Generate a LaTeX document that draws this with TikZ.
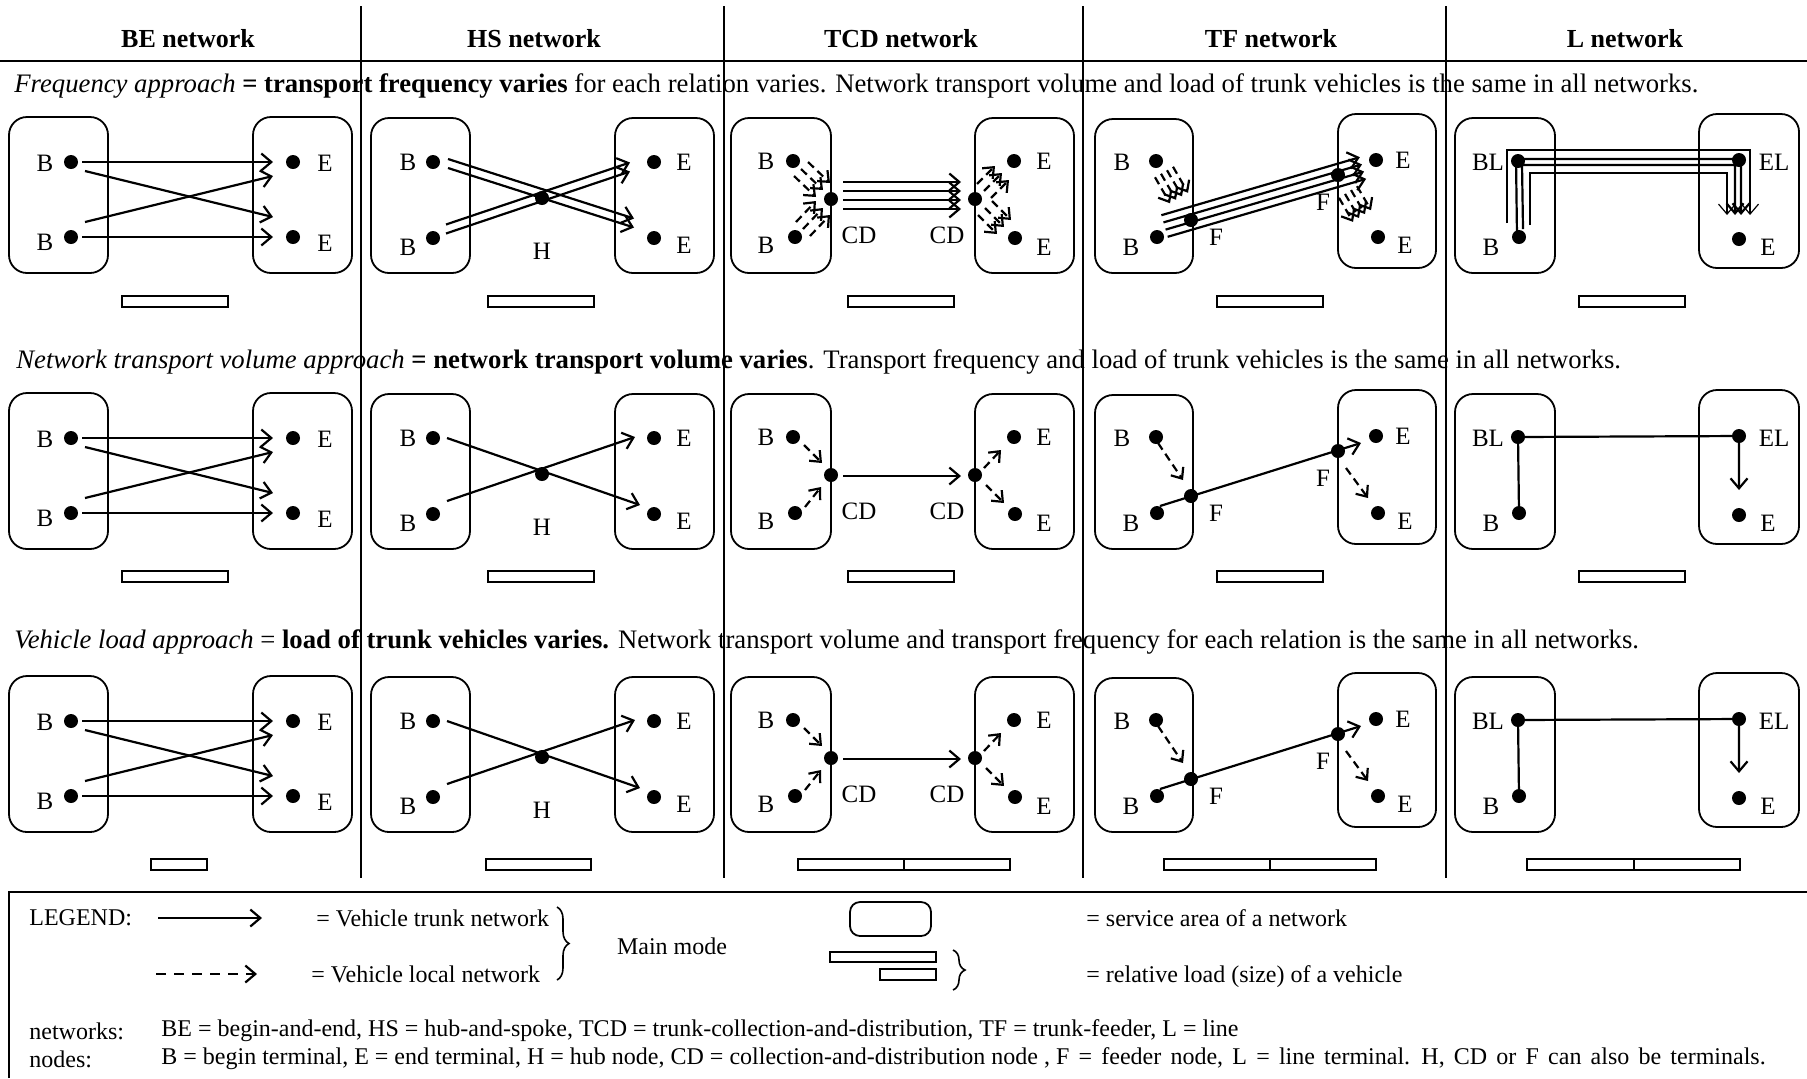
\documentclass[tikz,border=0pt]{standalone}
\usepackage{fontspec}
\setmainfont{Liberation Serif}
\usetikzlibrary{arrows.meta,decorations.pathreplacing}
\begin{document}
\begin{tikzpicture}[x=0.5pt,y=-0.5pt,
  area/.style={draw, line width=0.9pt, rounded corners=9pt},
  dot/.style={circle, fill, inner sep=0pt, minimum size=7pt},
  lbl/.style={inner sep=0pt, font=\fontsize{12.5}{14}\selectfont},
  trunk/.style={line width=1.1pt, -{Straight Barb[length=5pt,width=8.5pt]}},
  trunkline/.style={line width=1.1pt},
  thintrunk/.style={line width=0.6pt, -{Straight Barb[length=5pt,width=8.5pt]}},
  local/.style={line width=1.1pt, dash pattern=on 4pt off 2.5pt, -{Straight Barb[length=4.5pt,width=7.5pt]}},
  legdash/.style={line width=1.1pt, dash pattern=on 5pt off 4pt, -{Straight Barb[length=5pt,width=8.5pt]}},
  bar/.style={draw, line width=0.9pt},
  hdr/.style={font=\fontsize{13}{15}\selectfont\bfseries, inner sep=0pt},
  captxt/.style={font=\fontsize{13.35}{15}\selectfont, anchor=west, inner sep=0pt},
  leg/.style={font=\fontsize{12}{14}\selectfont, inner sep=0pt},
  brc/.style={decorate, decoration={brace, amplitude=6pt}, line width=0.8pt},
]
\useasboundingbox (0,0) rectangle (1807,1078);

% ---------- grid ----------
\draw[line width=1pt] (0,61) -- (1807,61);
\foreach \x in {361,724,1083,1446} \draw[line width=0.9pt] (\x,6) -- (\x,878);

% ---------- headers ----------
\node[hdr] (h1) at (188,39) {BE network};
\node[hdr] (h2) at (534,39) {HS network};
\node[hdr] (h3) at (901,39) {TCD network};
\node[hdr] (h4) at (1271,39) {TF network};
\node[hdr] (h5) at (1625,39) {L network};

% ---------- captions ----------
\node[captxt] (cap1) at (14,86) {\textit{Frequency approach} \textbf{= transport frequency varies} for each relation varies. Network transport volume and load of trunk vehicles is the same in all networks.};
\node[captxt] (cap2) at (16,362) {\textit{Network transport volume approach} \textbf{= network transport volume varies}. Transport frequency and load of trunk vehicles is the same in all networks.};
\node[captxt] (cap3) at (14,642) {\textit{Vehicle load approach} = \textbf{load of trunk vehicles varies.} Network transport volume and transport frequency for each relation is the same in all networks.};

% ---------- panels: areas, dots, labels ----------
\foreach \r/\dy in {1/0,2/276,3/559}{
\begin{scope}[shift={(0,\dy)}]
  % BE
  \draw[area] (9,117) rectangle (108,273);
  \draw[area] (253,117) rectangle (352,273);
  \node[dot] (beB1-\r) at (71,162) {};
  \node[dot] (beB2-\r) at (71,237) {};
  \node[dot] (beE1-\r) at (293,162) {};
  \node[dot] (beE2-\r) at (293,237) {};
  \node[lbl] (beLB1-\r) at (45,163) {B};
  \node[lbl] (beLB2-\r) at (45,242) {B};
  \node[lbl] (beLE1-\r) at (325,163) {E};
  \node[lbl] (beLE2-\r) at (325,243) {E};
  % HS
  \draw[area] (371,118) rectangle (470,273);
  \draw[area] (615,118) rectangle (714,273);
  \node[dot] (hsB1-\r) at (433,162) {};
  \node[dot] (hsB2-\r) at (433,238) {};
  \node[dot] (hsH-\r) at (542,198) {};
  \node[dot] (hsE1-\r) at (654,162) {};
  \node[dot] (hsE2-\r) at (654,238) {};
  \node[lbl] (hsLB1-\r) at (408,162) {B};
  \node[lbl] (hsLB2-\r) at (408,247) {B};
  \node[lbl] (hsLH-\r) at (542,251) {H};
  \node[lbl] (hsLE1-\r) at (684,162) {E};
  \node[lbl] (hsLE2-\r) at (684,245) {E};
  % TCD
  \draw[area] (731,118) rectangle (831,273);
  \draw[area] (975,118) rectangle (1074,273);
  \node[dot] (tcB1-\r) at (793,161) {};
  \node[dot] (tcB2-\r) at (795,237) {};
  \node[dot] (tcC1-\r) at (831,199) {};
  \node[dot] (tcC2-\r) at (975,199) {};
  \node[dot] (tcE1-\r) at (1014,161) {};
  \node[dot] (tcE2-\r) at (1015,238) {};
  \node[lbl] (tcLB1-\r) at (766,161) {B};
  \node[lbl] (tcLB2-\r) at (766,245) {B};
  \node[lbl] (tcLC1-\r) at (859,235) {CD};
  \node[lbl] (tcLC2-\r) at (947,235) {CD};
  \node[lbl] (tcLE1-\r) at (1044,161) {E};
  \node[lbl] (tcLE2-\r) at (1044,247) {E};
  % TF
  \draw[area] (1095,119) rectangle (1193,273);
  \draw[area] (1338,114) rectangle (1436,268);
  \node[dot] (tfB1-\r) at (1156,161) {};
  \node[dot] (tfB2-\r) at (1157,237) {};
  \node[dot] (tfF1-\r) at (1191,220) {};
  \node[dot] (tfF2-\r) at (1338,175) {};
  \node[dot] (tfE1-\r) at (1376,160) {};
  \node[dot] (tfE2-\r) at (1378,237) {};
  \node[lbl] (tfLB1-\r) at (1122,162) {B};
  \node[lbl] (tfLB2-\r) at (1131,247) {B};
  \node[lbl] (tfLF1-\r) at (1216,237) {F};
  \node[lbl] (tfLF2-\r) at (1323,202) {F};
  \node[lbl] (tfLE1-\r) at (1403,160) {E};
  \node[lbl] (tfLE2-\r) at (1405,245) {E};
  % L
  \draw[area] (1455,118) rectangle (1555,273);
  \draw[area] (1699,114) rectangle (1799,268);
  \node[dot] (lBL-\r) at (1518,161) {};
  \node[dot] (lB-\r) at (1519,237) {};
  \node[dot] (lEL-\r) at (1739,160) {};
  \node[dot] (lE-\r) at (1739,239) {};
  \node[lbl] (lLBL-\r) at (1488,162) {BL};
  \node[lbl] (lLB-\r) at (1491,247) {B};
  \node[lbl] (lLEL-\r) at (1774,162) {EL};
  \node[lbl] (lLE-\r) at (1768,247) {E};
\end{scope}
}

% ---------- BE connectors (all rows) ----------
\foreach \r in {1,2,3}{
  \draw[trunk] ([shift={(11,0)}]beB1-\r.center) -- ([shift={(-20,0)}]beE1-\r.center);
  \draw[trunk] ([shift={(14,9)}]beB1-\r.center) -- ([shift={(-20,-20)}]beE2-\r.center);
  \draw[trunk] ([shift={(14,-15)}]beB2-\r.center) -- ([shift={(-20,14)}]beE1-\r.center);
  \draw[trunk] ([shift={(11,0)}]beB2-\r.center) -- ([shift={(-20,0)}]beE2-\r.center);
}

% ---------- row 1: frequency approach ----------
% HS: double lines
\foreach \o in {-4.5,4.5}{
  \draw[trunk] ([shift={(15,{1.5+(\o)})}]hsB1-1.center) -- ([shift={(-20,{-15+(\o)})}]hsE2-1.center);
  \draw[trunk] ([shift={(13,{-9+(\o)})}]hsB2-1.center) -- ([shift={(-24,{5+(\o)})}]hsE1-1.center);
}
% TCD: four trunk lines, triple local lines
\foreach \k in {0,1,2,3}
  \draw[trunk] ([shift={(12,{-17+9*\k})}]tcC1-1.center) -- ([shift={(-14,{-17+9*\k})}]tcC2-1.center);
\foreach \k in {-1,0,1}{
  \draw[local] ([shift={({8+7*\k},{8-7*\k})}]tcB1-1.center) -- ([shift={({-8+7*\k},{-9-7*\k})}]tcC1-1.center);
  \draw[local] ([shift={({8+7*\k},{-8+7*\k})}]tcB2-1.center) -- ([shift={({-8+7*\k},{9+7*\k})}]tcC1-1.center);
  \draw[local] ([shift={({9+7*\k},{-8+7*\k})}]tcC2-1.center) -- ([shift={({-12+7*\k},{12+7*\k})}]tcE1-1.center);
  \draw[local] ([shift={({10+7*\k},{9-7*\k})}]tcC2-1.center) -- ([shift={({-11+7*\k},{-11-7*\k})}]tcE2-1.center);
}
% TF: four trunk lines, four local lines
\foreach \k in {-1.5,-0.5,0.5,1.5}{
  \draw[trunk] ([shift={({7.5+2.1*\k},{-11+7.2*\k})}]tfB2-1.center) -- ([shift={({-13+2.1*\k},{8+7.2*\k})}]tfE1-1.center);
  \draw[local] ([shift={({8+6*\k},{11-3.5*\k})}]tfB1-1.center) -- ([shift={({-12+6*\k},{-22-3.5*\k})}]tfF1-1.center);
  \draw[local] ([shift={({10+6*\k},{17-3.9*\k})}]tfF2-1.center) -- ([shift={({-16+6*\k},{-21-3.9*\k})}]tfE2-1.center);
}
% L: four nested lines
\draw[thintrunk] ([shift={(-11,62)}]lBL-1.center) -- ([shift={(-11,-11)}]lBL-1.center) -- ([shift={(11,-10)}]lEL-1.center) -- ([shift={(11,55)}]lEL-1.center);
\draw[trunk] ([shift={(-2,0)}]lB-1.center) -- ([shift={(-2,-2)}]lBL-1.center) -- ([shift={(2,-1)}]lEL-1.center) -- ([shift={(2,55)}]lEL-1.center);
\draw[trunk] ([shift={(4,-8)}]lB-1.center) -- ([shift={(4,4)}]lBL-1.center) -- ([shift={(-4,5)}]lEL-1.center) -- ([shift={(-4,55)}]lEL-1.center);
\draw[thintrunk] ([shift={(12,64)}]lBL-1.center) -- ([shift={(12,12)}]lBL-1.center) -- ([shift={(-12,13)}]lEL-1.center) -- ([shift={(-12,55)}]lEL-1.center);

% ---------- rows 2 and 3 ----------
\foreach \r in {2,3}{
  % HS
  \draw[trunk] ([shift={(14,0)}]hsB1-\r.center) -- ([shift={(-14,-9)}]hsE2-\r.center);
  \draw[trunk] ([shift={(14,-13)}]hsB2-\r.center) -- ([shift={(-19,-1)}]hsE1-\r.center);
  % TCD
  \draw[trunk] ([shift={(12,1)}]tcC1-\r.center) -- ([shift={(-14,1)}]tcC2-\r.center);
  \draw[local] ([shift={(11,8)}]tcB1-\r.center) -- ([shift={(-9,-12)}]tcC1-\r.center);
  \draw[local] ([shift={(10,-6)}]tcB2-\r.center) -- ([shift={(-10,12)}]tcC1-\r.center);
  \draw[local] ([shift={(9,-7)}]tcC2-\r.center) -- ([shift={(-13,13)}]tcE1-\r.center);
  \draw[local] ([shift={(11,10)}]tcC2-\r.center) -- ([shift={(-11,-11)}]tcE2-\r.center);
  % TF
  \draw[trunk] ([shift={(3,-7)}]tfB2-\r.center) -- ([shift={(-15,7)}]tfE1-\r.center);
  \draw[local] ([shift={(2,6)}]tfB1-\r.center) -- ([shift={(-8,-16)}]tfF1-\r.center);
  \draw[local] ([shift={(8,17)}]tfF2-\r.center) -- ([shift={(-10,-15)}]tfE2-\r.center);
  % L
  \draw[trunk] (lB-\r.center) -- (lBL-\r.center) -- (lEL-\r.center) -- ([shift={(0,54)}]lEL-\r.center);
}

% ---------- load bars ----------
\foreach \dy in {0,275}{
  \draw[bar] (122,296+\dy) rectangle (228,307+\dy);
  \draw[bar] (488,296+\dy) rectangle (594,307+\dy);
  \draw[bar] (848,296+\dy) rectangle (954,307+\dy);
  \draw[bar] (1217,296+\dy) rectangle (1323,307+\dy);
  \draw[bar] (1579,296+\dy) rectangle (1685,307+\dy);
}
\draw[bar] (151,859) rectangle (207,870);
\draw[bar] (486,859) rectangle (591,870);
\draw[bar] (798,859) rectangle (904,870);
\draw[bar] (904,859) rectangle (1010,870);
\draw[bar] (1164,859) rectangle (1270,870);
\draw[bar] (1270,859) rectangle (1376,870);
\draw[bar] (1527,859) rectangle (1634,870);
\draw[bar] (1634,859) rectangle (1740,870);

% ---------- legend ----------
\draw[line width=1.2pt] (9,1078) -- (9,892) -- (1807,892);
\node[leg, anchor=west] (lgT) at (29,918) {LEGEND:};
\coordinate (la1) at (158,918);
\coordinate (la2) at (262,918);
\draw[trunk] (la1) -- (la2);
\node[leg, anchor=west] (lgTr) at (316,918) {= Vehicle trunk network};
\coordinate (ld1) at (156,974);
\coordinate (ld2) at (257,974);
\draw[legdash] (ld1) -- (ld2);
\node[leg, anchor=west] (lgLo) at (311,974) {= Vehicle local network};
\coordinate (lb1) at (557,907);
\coordinate (lb2) at (557,980);
\draw[brc] (lb1) -- (lb2);
\node[leg] (lgMM) at (672,946) {Main mode};
\draw[area, rounded corners=5pt] (850,902) rectangle (931,936);
\draw[bar] (830,952) rectangle (936,962);
\draw[bar] (880,969) rectangle (936,980);
\coordinate (lc1) at (953,950);
\coordinate (lc2) at (953,990);
\draw[brc] (lc1) -- (lc2);
\node[leg, anchor=west] (lgSA) at (1086,918) {= service area of a network};
\node[leg, anchor=west] (lgRL) at (1086,977) {= relative load (size) of a vehicle};
\node[leg, anchor=west] (lgN) at (29,1031) {networks:};
\node[leg, anchor=west] (lgN2) at (161,1031) {BE = begin-and-end, HS = hub-and-spoke, TCD = trunk-collection-and-distribution, TF = trunk-feeder, L = line};
\node[leg, anchor=west] (lgD) at (29,1059) {nodes:};
\node[leg, anchor=west] (lgD2) at (161,1059) {B = begin terminal, E = end terminal, H = hub node, CD = collection-and-distribution node , {\spaceskip=4.6pt\relax F = feeder node, L = line terminal. H, CD or F can also be terminals.}};
\end{tikzpicture}
\end{document}
